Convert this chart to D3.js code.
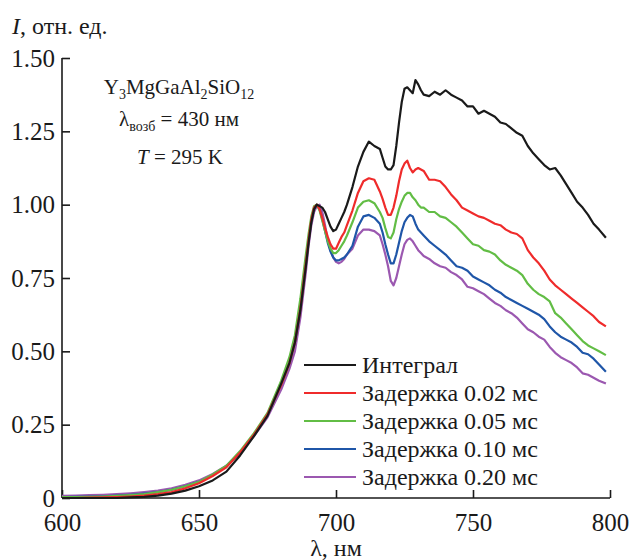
<!DOCTYPE html>
<html><head><meta charset="utf-8">
<script src="https://cdn.jsdelivr.net/npm/d3@7"></script>
<style>
html,body{margin:0;padding:0;background:#fff;}
svg text{font-family:"Liberation Serif","Times New Roman",Times,serif !important;fill:#1a1a1a;}
</style></head>
<body><svg id="c" width="630" height="560"></svg>
<script>
const wavelength = [
600,605,610,615,620,625,630,635,640,645,
650,655,660,665,670,675,680,683,685,687,
689,690,691,692,693,694,695,696,697,698,
699,700,701,702,703,704,706,708,710,712,
714,716,717,718,719,720,721,722,723,724,
725,726,727,728,729,730,731,732,734,736,
738,740,742,744,746,748,750,752,754,756,
758,760,762,764,766,768,770,772,774,776,
778,780,782,784,786,788,790,792,794,796,
798.5];
const integral = [
0,0,0,0,0,0.002,0.004,0.008,0.015,0.025,
0.04,0.06,0.09,0.145,0.21,0.28,0.39,0.46,0.53,0.64,
0.79,0.87,0.94,0.985,1.0,0.995,0.99,0.975,0.95,0.925,
0.91,0.915,0.935,0.955,0.975,1.0,1.06,1.13,1.18,1.215,
1.2,1.19,1.16,1.13,1.12,1.12,1.135,1.2,1.28,1.35,
1.395,1.40,1.39,1.38,1.425,1.41,1.39,1.375,1.37,1.385,
1.375,1.39,1.375,1.365,1.355,1.335,1.335,1.31,1.32,1.31,
1.30,1.28,1.275,1.26,1.245,1.235,1.20,1.175,1.155,1.135,
1.12,1.125,1.10,1.07,1.04,1.01,0.99,0.965,0.935,0.915,
0.887];
const delay002 = [
0,0,0.001,0.002,0.003,0.005,0.008,0.013,0.02,0.033,
0.05,0.075,0.105,0.155,0.215,0.285,0.385,0.46,0.53,0.645,
0.8,0.88,0.95,0.99,1.0,0.985,0.955,0.92,0.89,0.865,
0.85,0.85,0.87,0.89,0.905,0.93,0.98,1.04,1.08,1.09,
1.085,1.045,1.02,0.99,0.965,0.965,0.99,1.03,1.08,1.12,
1.14,1.15,1.125,1.11,1.12,1.125,1.12,1.115,1.085,1.085,
1.08,1.06,1.035,1.015,0.99,0.98,0.97,0.96,0.955,0.945,
0.935,0.93,0.915,0.905,0.9,0.885,0.845,0.82,0.80,0.775,
0.745,0.725,0.71,0.695,0.68,0.665,0.65,0.635,0.62,0.60,
0.585];
const delay005 = [
0.003,0.003,0.004,0.005,0.007,0.01,0.013,0.02,0.028,0.04,
0.055,0.08,0.11,0.16,0.22,0.29,0.40,0.48,0.555,0.68,
0.83,0.9,0.96,0.995,1.0,0.98,0.945,0.91,0.875,0.85,
0.835,0.835,0.845,0.86,0.875,0.895,0.94,0.99,1.01,1.015,
1.005,0.975,0.955,0.92,0.89,0.885,0.905,0.95,0.985,1.01,
1.03,1.04,1.04,1.025,1.015,1.0,0.99,0.99,0.975,0.975,
0.96,0.955,0.94,0.925,0.905,0.885,0.865,0.86,0.845,0.84,
0.83,0.81,0.795,0.785,0.775,0.76,0.73,0.71,0.695,0.685,
0.67,0.63,0.615,0.595,0.575,0.555,0.535,0.52,0.51,0.50,
0.487];
const delay010 = [
0.003,0.004,0.005,0.006,0.008,0.011,0.015,0.02,0.028,0.04,
0.055,0.078,0.108,0.155,0.215,0.285,0.39,0.465,0.53,0.65,
0.8,0.88,0.945,0.985,1.0,0.985,0.95,0.91,0.87,0.84,
0.82,0.81,0.81,0.815,0.82,0.83,0.86,0.925,0.96,0.965,
0.955,0.935,0.905,0.865,0.83,0.80,0.80,0.83,0.87,0.91,
0.94,0.955,0.965,0.96,0.935,0.915,0.905,0.895,0.875,0.86,
0.845,0.83,0.81,0.79,0.785,0.775,0.755,0.745,0.735,0.725,
0.71,0.70,0.685,0.675,0.665,0.655,0.645,0.635,0.625,0.61,
0.585,0.565,0.55,0.54,0.53,0.515,0.495,0.49,0.475,0.455,
0.43];
const delay020 = [
0.007,0.008,0.01,0.011,0.013,0.016,0.02,0.025,0.033,0.045,
0.06,0.082,0.11,0.155,0.21,0.275,0.37,0.44,0.5,0.615,
0.77,0.86,0.93,0.975,0.995,1.0,0.975,0.93,0.88,0.845,
0.82,0.805,0.80,0.805,0.815,0.83,0.85,0.895,0.915,0.915,
0.91,0.895,0.865,0.83,0.79,0.74,0.725,0.75,0.79,0.83,
0.865,0.88,0.885,0.875,0.86,0.845,0.835,0.825,0.815,0.80,
0.79,0.785,0.77,0.76,0.745,0.72,0.715,0.705,0.695,0.68,
0.665,0.655,0.64,0.63,0.615,0.595,0.575,0.565,0.55,0.54,
0.515,0.495,0.48,0.47,0.46,0.445,0.425,0.42,0.41,0.40,
0.39];

const seriesNames = ["Интеграл","Задержка 0.02 мс","Задержка 0.05 мс","Задержка 0.10 мс","Задержка 0.20 мс"];
const seriesValues = [integral, delay002, delay005, delay010, delay020];
const seriesColors = ["#1a1a1a","#ef2b2b","#62bd45","#1f56a8","#9b58b0"];
const xTicks = [600,650,700,750,800];
const yTicks = [0,0.25,0.5,0.75,1.0,1.25,1.5];
const yTickLabels = ["0","0.25","0.50","0.75","1.00","1.25","1.50"];

const svg = d3.select("#c");
const x = d3.scaleLinear().domain([600,800]).range([62,610]);
const y = d3.scaleLinear().domain([0,1.5]).range([498,58]);

const gx = svg.append("g").attr("transform","translate(0,498)")
  .call(d3.axisBottom(x).tickValues(xTicks).tickSize(-8).tickPadding(10).tickFormat(d3.format("d")));
const gy = svg.append("g").attr("transform","translate(62,0)")
  .call(d3.axisLeft(y).tickValues(yTicks).tickSize(-8).tickPadding(7).tickFormat((d,i)=>yTickLabels[i]));
[gx,gy].forEach(g=>{
  g.attr("font-family",null);
  g.select(".domain").attr("stroke","#1a1a1a").attr("stroke-width",1.6);
  g.selectAll(".tick line").attr("stroke","#1a1a1a").attr("stroke-width",1.6);
  g.selectAll(".tick text").attr("font-size",25).attr("fill","#1a1a1a");
});
gx.select(".domain").attr("d","M62,0H610");
gy.select(".domain").attr("d","M0,498V58");
gx.selectAll(".tick text").attr("dy","0.92em");

const line = d3.line().x((d,i)=>x(wavelength[i])).y(d=>y(d));
[4,3,2,1,0].forEach(k=>{
  svg.append("path").datum(seriesValues[k])
    .attr("fill","none").attr("stroke",seriesColors[k]).attr("stroke-width",2.2)
    .attr("stroke-linejoin","round").attr("d",line);
});

const t1 = svg.append("text").attr("x",12).attr("y",34).attr("font-size",24);
t1.append("tspan").attr("font-style","italic").text("I");
t1.append("tspan").text(", отн. ед.");
svg.append("text").attr("x",336).attr("y",556).attr("text-anchor","middle").attr("font-size",24).text("λ, нм");

const a1 = svg.append("text").attr("x",179).attr("y",94).attr("text-anchor","middle").attr("font-size",21);
a1.append("tspan").text("Y");
a1.append("tspan").attr("font-size",14).attr("dy",5).text("3");
a1.append("tspan").attr("dy",-5).text("MgGaAl");
a1.append("tspan").attr("font-size",14).attr("dy",5).text("2");
a1.append("tspan").attr("dy",-5).text("SiO");
a1.append("tspan").attr("font-size",14).attr("dy",5).text("12");
const a2 = svg.append("text").attr("x",179).attr("y",126).attr("text-anchor","middle").attr("font-size",21);
a2.append("tspan").text("λ");
a2.append("tspan").attr("font-size",14).attr("dy",5).text("возб");
a2.append("tspan").attr("dy",-5).text(" = 430 нм");
const a3 = svg.append("text").attr("x",180).attr("y",164).attr("text-anchor","middle").attr("font-size",21);
a3.append("tspan").attr("font-style","italic").text("T");
a3.append("tspan").text(" = 295 K");

const legY = [365,393,421,449,477];
seriesNames.forEach((n,i)=>{
  svg.append("line").attr("x1",304).attr("x2",356).attr("y1",legY[i]).attr("y2",legY[i])
    .attr("stroke",seriesColors[i]).attr("stroke-width",2);
  svg.append("text").attr("x",362).attr("y",legY[i]).attr("dy","0.35em").attr("font-size",24).text(n);
});
</script></body></html>
